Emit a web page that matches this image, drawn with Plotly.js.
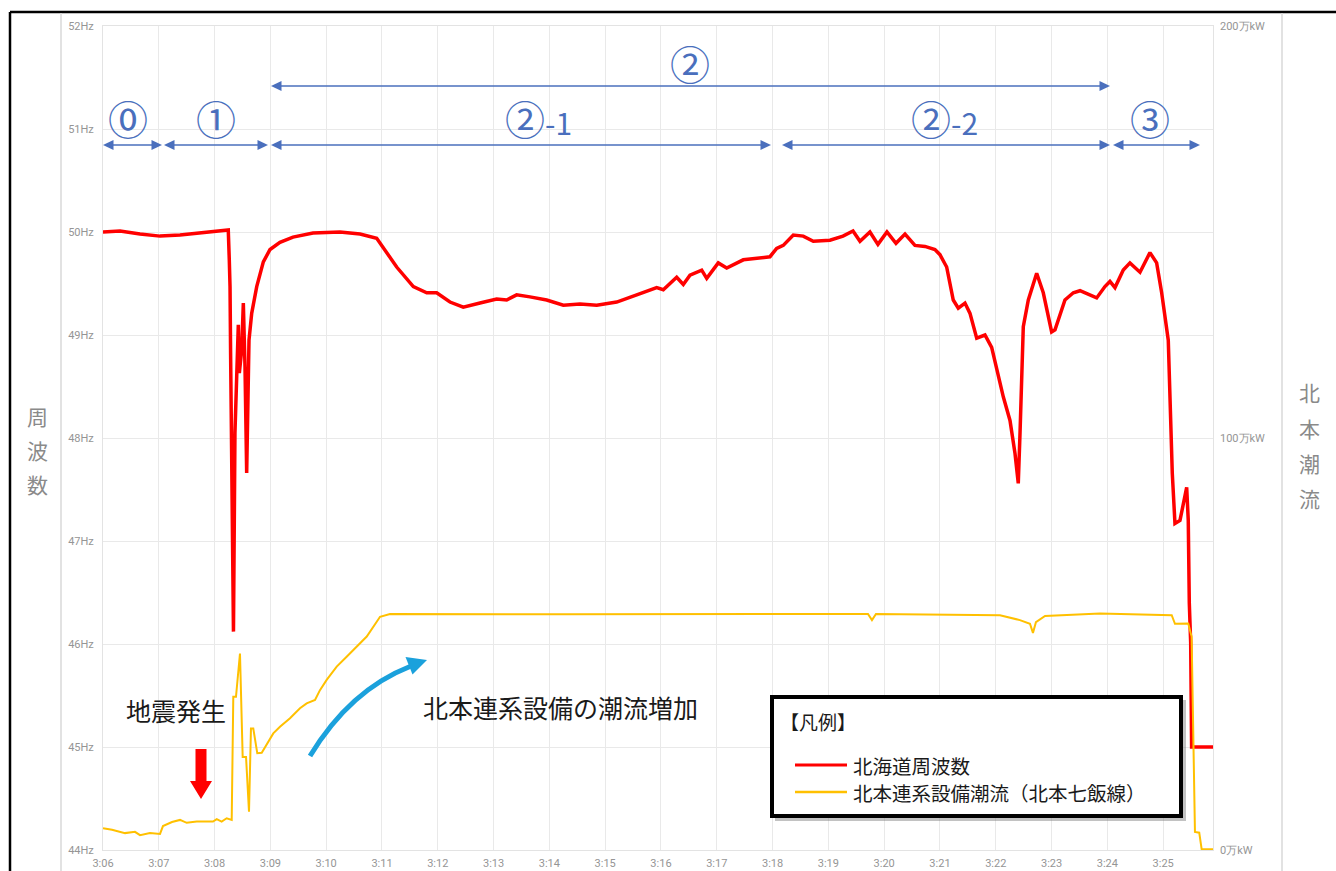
<!DOCTYPE html>
<html>
<head>
<meta charset="utf-8">
<script src="https://cdn.plot.ly/plotly-3.0.1.min.js"></script>
<style>
html,body{margin:0;padding:0;background:#fff;}
#chart{width:1336px;height:871px;}
</style>
</head>
<body>
<div id="chart"></div>
<script>
// ---- data (seconds after 3:06:00) ----
const redSec = [0,18.3,39.8,61.3,82.8,104.3,120.4,134.7,135.8,136.6,137.2,138.4,140.3,141.9,143.8,145.5,146.6,149.1,150.9,152.7,154.5,155.6,157.0,159.9,165.3,172.4,179.6,190.3,204.3,225.8,254.8,276.4,294.3,315.8,333.7,348.1,358.8,373.1,387.4,405.4,423.3,434.1,444.8,459.1,477.1,495,512.9,530.9,552.4,573.9,595.4,602.5,616.9,624,631.2,643.8,649.2,661.6,670.7,688.5,717.2,724.4,731.5,742.3,753,763.8,781.7,795.7,806.5,814,824.7,833.3,843,852.7,862.4,873.1,883.9,894.6,900,907.2,914.3,919.7,926.9,932.3,939.5,948.4,955.6,968.1,975.3,980.7,984.2,986.1,989.6,995,1004,1011.1,1020.1,1023.7,1034.4,1043.4,1050.6,1068.5,1077.4,1082.8,1088.2,1097.1,1104.3,1115.1,1125.8,1133,1138.4,1145.5,1147.3,1149.8,1152.7,1158.1,1165.3,1167.0,1168.1,1169.6,1170.6,1193.6];
const redHz = [50.00,50.01,49.98,49.96,49.97,49.99,50.00,50.02,49.73,49.47,48.83,47.88,46.12,48.05,48.56,49.10,48.63,48.85,49.31,48.69,47.66,48.30,48.95,49.21,49.47,49.71,49.83,49.90,49.95,49.99,50.00,49.98,49.94,49.66,49.47,49.41,49.41,49.32,49.27,49.31,49.35,49.34,49.39,49.37,49.34,49.29,49.30,49.29,49.32,49.39,49.46,49.44,49.56,49.49,49.58,49.63,49.55,49.70,49.65,49.73,49.76,49.84,49.87,49.97,49.96,49.91,49.92,49.96,50.01,49.91,50.00,49.88,50.00,49.89,49.98,49.87,49.86,49.83,49.78,49.66,49.34,49.26,49.31,49.21,48.97,49.00,48.88,48.40,48.17,47.85,47.56,48.05,49.08,49.34,49.60,49.41,49.03,49.05,49.34,49.41,49.43,49.36,49.47,49.52,49.46,49.63,49.70,49.61,49.80,49.70,49.41,48.95,48.30,47.66,47.17,47.20,47.52,47.20,46.40,46.01,45.00,45.00];

const flowSec = [0,9.7,23.7,34.4,39.8,50.5,61.3,64.5,74.2,82.8,90,100.8,118.3,122.3,127.6,133,138.4,140.1,143,147.3,150.2,153.8,157,159.1,161.6,165.9,170.7,176,183.1,190.3,201.1,211.8,219,228,233.3,240.5,251.3,262,272.8,283.6,297.9,308.6,500,700,822.6,826.9,831.2,964.5,986,996.8,1000,1003.2,1013,1072,1149.2,1152.7,1167,1170.6,1174.2,1178.8,1181.4,1193.6];
const flowMW = [5.3,4.9,4.1,4.4,3.6,4.1,3.9,5.8,6.8,7.3,6.6,6.9,6.9,7.5,6.9,7.7,7.3,37.2,37.2,47.7,22.6,22.6,9.3,29.5,29.5,23.5,23.6,25.5,28.3,29.9,32.0,34.4,35.6,36.4,38.8,41.3,44.5,46.9,49.3,51.8,56.6,57.3,57.2,57.2,57.3,55.8,57.3,57.0,55.8,54.9,52.7,55.3,56.8,57.4,57.0,54.9,55.0,51.8,4.4,4.2,0.2,0.2];

const seriesNames = ['北海道周波数','北本連系設備潮流（北本七飯線）'];
const leftTitle = '周波数';
const rightTitle = '北本潮流';

// ---- helpers ----
function toTime(s){
  const m = 6 + Math.floor(s/60);
  const sec = s - Math.floor(s/60)*60;
  const ss = sec.toFixed(1).padStart(4,'0');
  return '2018-09-06 03:' + String(m).padStart(2,'0') + ':' + ss;
}
const L=103,R=1213,T=26,B=850;
const px = x => (x-L)/(R-L);
const py = y => (B-y)/(B-T);
const P = (x,y) => px(x).toFixed(5)+','+py(y).toFixed(5);

const BLUE='#4a6fbd';
const shapes=[];
const annotations=[];

// outer frame
shapes.push({type:'line',xref:'paper',yref:'paper',x0:px(10),x1:px(1340),y0:py(12),y1:py(12),line:{color:'#000',width:2.5}});
shapes.push({type:'line',xref:'paper',yref:'paper',x0:px(10),x1:px(10),y0:py(12),y1:py(875),line:{color:'#000',width:2.5}});
shapes.push({type:'line',xref:'paper',yref:'paper',x0:px(61),x1:px(61),y0:py(13),y1:py(875),line:{color:'#d9d9d9',width:1.5}});
shapes.push({type:'line',xref:'paper',yref:'paper',x0:px(1282),x1:px(1282),y0:py(13),y1:py(875),line:{color:'#d9d9d9',width:1.5}});

// blue double arrows
function dbl(x1,x2,y){
  const hl=10.5, hw=5;
  shapes.push({type:'line',xref:'paper',yref:'paper',x0:px(x1+hl-1),x1:px(x2-hl+1),y0:py(y),y1:py(y),line:{color:BLUE,width:1.6}});
  shapes.push({type:'path',xref:'paper',yref:'paper',path:'M'+P(x1,y)+' L'+P(x1+hl,y-hw)+' L'+P(x1+hl,y+hw)+' Z',fillcolor:BLUE,line:{width:0}});
  shapes.push({type:'path',xref:'paper',yref:'paper',path:'M'+P(x2,y)+' L'+P(x2-hl,y-hw)+' L'+P(x2-hl,y+hw)+' Z',fillcolor:BLUE,line:{width:0}});
}
dbl(103,162,145);
dbl(164,268,145);
dbl(271,771,145);
dbl(782,1110,145);
dbl(1113,1200,145);
dbl(271,1110,86);

function lab(text,x,y,size,color,anchor){
  annotations.push({xref:'paper',yref:'paper',x:px(x),y:py(y),text:text,showarrow:false,
    xanchor:anchor||'center',yanchor:'middle',font:{family:'Noto Sans CJK JP',size:size,color:color}});
}
lab('⓪',128,118,40,BLUE);
lab('①',216,118,40,BLUE);
lab('②<span style="font-size:30px">-1</span>',538,118,40,BLUE);
lab('②<span style="font-size:30px">-2</span>',944,118,40,BLUE);
lab('③',1150,118,40,BLUE);
lab('②',690,63,40,BLUE);

// red block arrow (earthquake)
shapes.push({type:'path',xref:'paper',yref:'paper',
  path:'M'+P(195.5,749)+' L'+P(206.5,749)+' L'+P(206.5,781)+' L'+P(212,781)+' L'+P(201,799)+' L'+P(190,781)+' L'+P(195.5,781)+' Z',
  fillcolor:'#ff0000',line:{width:0}});
lab('地震発生',176,710,25,'#1a1a1a');

// cyan curved arrow
shapes.push({type:'path',xref:'paper',yref:'paper',path:'M'+P(310,756)+' Q'+P(350,690)+' '+P(410,666.5),line:{color:'#1ba1dc',width:5}});
shapes.push({type:'path',xref:'paper',yref:'paper',path:'M'+P(427,660)+' L'+P(412.5,674.5)+' L'+P(405.5,657)+' Z',fillcolor:'#1ba1dc',line:{width:0}});
lab('北本連系設備の潮流増加',560,707,25,'#1a1a1a');

// custom legend box
shapes.push({type:'rect',xref:'paper',yref:'paper',x0:px(775),x1:px(1186),y0:py(700),y1:py(821),fillcolor:'rgba(120,120,120,0.45)',line:{width:0}});
shapes.push({type:'rect',xref:'paper',yref:'paper',x0:px(772),x1:px(1181),y0:py(697),y1:py(816),fillcolor:'#fff',line:{color:'#000',width:4}});
shapes.push({type:'line',xref:'paper',yref:'paper',x0:px(795),x1:px(847),y0:py(765),y1:py(765),line:{color:'#ff0000',width:3}});
shapes.push({type:'line',xref:'paper',yref:'paper',x0:px(795),x1:px(847),y0:py(792),y1:py(792),line:{color:'#ffc000',width:2.5}});
lab('【凡例】',778,721,19,'#1a1a1a','left');
lab(seriesNames[0],851,765,19.5,'#1a1a1a','left');
lab(seriesNames[1],851,792,19.5,'#1a1a1a','left');

// axis titles (vertical stacked characters)
const leftY=[416,450,484];
leftTitle.split('').forEach((c,i)=>lab(c,37,leftY[i],21,'#8a8a8a'));
const rightY=[392,428,463,498];
rightTitle.split('').forEach((c,i)=>lab(c,1309,rightY[i],21,'#8a8a8a'));

const tickFont={family:'Roboto',size:11,color:'#959595'};
const traces=[
  {x:redSec.map(toTime),y:redHz,type:'scatter',mode:'lines',name:seriesNames[0],line:{color:'#ff0000',width:3.5},yaxis:'y'},
  {x:flowSec.map(toTime),y:flowMW,type:'scatter',mode:'lines',name:seriesNames[1],line:{color:'#ffc000',width:2},yaxis:'y2'}
];
const layout={
  width:1336,height:871,
  margin:{l:L,r:1336-R,t:T,b:871-B,pad:0},
  paper_bgcolor:'#fff',plot_bgcolor:'#fff',
  showlegend:false,
  xaxis:{type:'date',range:[toTime(0),toTime(1193.6)],tick0:toTime(0),dtick:60000,tickformat:'%-H:%M',
    showgrid:true,gridcolor:'#e9e9e9',gridwidth:1,showline:true,linecolor:'#e3e3e3',linewidth:1,mirror:true,
    ticks:'',ticklabelstandoff:3,tickfont:tickFont,zeroline:false,fixedrange:true},
  yaxis:{range:[44,52],tick0:44,dtick:1,ticksuffix:'Hz',showticksuffix:'all',showgrid:true,gridcolor:'#e9e9e9',gridwidth:1,
    showline:true,linecolor:'#e3e3e3',mirror:true,ticks:'',ticklabelstandoff:6,tickfont:tickFont,zeroline:false,fixedrange:true},
  yaxis2:{range:[0,200],dtick:100,ticksuffix:'万kW',showticksuffix:'all',overlaying:'y',side:'right',showgrid:false,showline:false,
    ticks:'',ticklabelstandoff:6,tickfont:tickFont,zeroline:false,fixedrange:true},
  shapes:shapes,annotations:annotations
};
Plotly.newPlot('chart',traces,layout,{displayModeBar:false,staticPlot:true});
</script>
</body>
</html>
